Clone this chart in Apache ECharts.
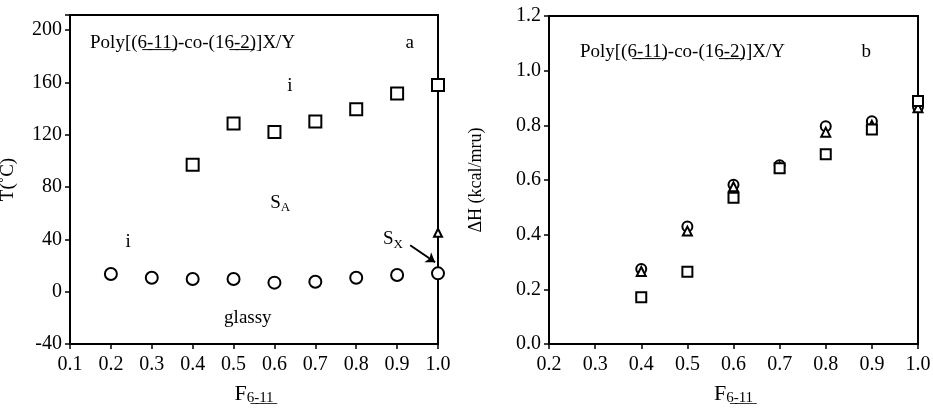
<!DOCTYPE html>
<html>
<head>
<meta charset="utf-8">
<title>Poly[(6-11)-co-(16-2)]X/Y</title>
<script src="https://cdn.jsdelivr.net/npm/echarts@6/dist/echarts.min.js"></script>
<style>
  html, body { margin: 0; padding: 0; background: #fff; }
  #main { width: 933px; height: 408px; }
</style>
</head>
<body>
<div id="main"></div>
<script>
// panel a: transition temperatures
var fracA = [0.2, 0.3, 0.4, 0.5, 0.6, 0.7, 0.8, 0.9, 1.0];
var tGlass = [13.5, 10.7, 9.7, 9.7, 6.9, 7.6, 10.7, 12.8, 14];
var fracIso = [0.4, 0.5, 0.6, 0.7, 0.8, 0.9, 1.0];
var tIso = [97, 128.5, 122, 130, 139.5, 151.5, 158];
var tSx = [[1.0, 45]];

// panel b: enthalpies
var fracB = [0.4, 0.5, 0.6, 0.7, 0.8, 0.9, 1.0];
var dhCircle = [0.274, 0.43, 0.583, 0.654, 0.797, 0.815, 0.868];
var dhTriangle = [0.265, 0.413, 0.575, 0.648, 0.775, 0.8, 0.864];
var dhSquare = [0.171, 0.264, 0.535, 0.643, 0.694, 0.785, 0.889];

var SERIF = 'Liberation Serif';
var title = 'Poly[(6\u0332-\u03321\u03321\u0332)-co-(16\u0332-\u03322\u0332)]X/Y';
var xName = '{f|F}{s|6\u0332-\u03321\u03321\u0332}';

// text labels placed in data coordinates
var notesA = [
  [0.149, 190, title, 'left'],
  [0.931, 190, 'a', 'center'],
  [0.638, 157, 'i', 'center'],
  [0.614, 68, '{t|S}{sub|A}', 'center'],
  [0.242, 38, 'i', 'center'],
  [0.535, -20, 'glassy', 'center'],
  [0.89, 40, '{t|S}{sub|X}', 'center']
];
var notesB = [
  [0.267, 1.07, title, 'left'],
  [0.888, 1.07, 'b', 'center']
];

function pairs(xs, ys) {
  return xs.map(function (x, i) { return [x, ys[i]]; });
}

function noteSeries(notes, xi, yi) {
  return {
    type: 'scatter', xAxisIndex: xi, yAxisIndex: yi, symbolSize: 0, silent: true, z: 1,
    itemStyle: { opacity: 1 },
    data: notes.map(function (n) {
      return {
        value: [n[0], n[1]],
        label: {
          show: true, position: 'inside', align: n[3], verticalAlign: 'middle',
          formatter: n[2], color: '#000', fontFamily: SERIF, fontSize: 19,
          rich: {
            t: { fontFamily: SERIF, fontSize: 19, color: '#000' },
            sub: { fontFamily: SERIF, fontSize: 13, color: '#000', padding: [10, 0, 0, 0] }
          }
        }
      };
    })
  };
}

function marker(shape, size) {
  return {
    symbol: shape, symbolSize: size,
    itemStyle: { color: '#fff', borderColor: '#000', borderWidth: 2, opacity: 1 }
  };
}

var axisBase = {
  axisLine: { show: true, onZero: false, lineStyle: { color: '#000', width: 2 } },
  axisTick: { show: true, length: 5, lineStyle: { color: '#000', width: 1.5 } },
  splitLine: { show: false },
  axisLabel: { color: '#000', fontFamily: SERIF, fontSize: 20 }
};

function xAxis(min, gi) {
  return Object.assign({}, axisBase, {
    type: 'value', gridIndex: gi, min: min, max: 1.0, interval: 0.1,
    name: xName, nameLocation: 'middle', nameGap: 38,
    nameTextStyle: {
      rich: {
        f: { fontFamily: SERIF, fontSize: 22, color: '#000' },
        s: { fontFamily: SERIF, fontSize: 15, color: '#000', padding: [9, 0, 0, 0] }
      }
    },
    axisLabel: Object.assign({}, axisBase.axisLabel, {
      margin: 11,
      formatter: function (v) { return v.toFixed(1); }
    })
  });
}

var option = {
  backgroundColor: '#fff',
  animation: false,
  grid: [
    { left: 70, top: 15, width: 368, bottom: 64, containLabel: false, outerBoundsMode: 'none',
      show: true, borderColor: '#000', borderWidth: 2 },
    { left: 549, top: 16, width: 369, bottom: 64, containLabel: false, outerBoundsMode: 'none',
      show: true, borderColor: '#000', borderWidth: 2 }
  ],
  xAxis: [xAxis(0.1, 0), xAxis(0.2, 1)],
  yAxis: [
    Object.assign({}, axisBase, {
      type: 'value', gridIndex: 0, min: -40, max: 211.5, interval: 40,
      name: 'T(\u02daC)', nameLocation: 'middle', nameGap: 52,
      nameTextStyle: { fontFamily: SERIF, fontSize: 19, color: '#000' },
      axisLabel: Object.assign({}, axisBase.axisLabel, {
        margin: 8,
        formatter: function (v) { return v % 40 === 0 ? String(v) : ''; }
      })
    }),
    Object.assign({}, axisBase, {
      type: 'value', gridIndex: 1, min: 0, max: 1.2, interval: 0.2,
      name: '\u0394H (kcal/mru)', nameLocation: 'middle', nameGap: 64,
      nameTextStyle: { fontFamily: SERIF, fontSize: 18, color: '#000' },
      axisLabel: Object.assign({}, axisBase.axisLabel, {
        margin: 8,
        formatter: function (v) { return v.toFixed(1); }
      })
    })
  ],
  series: [
    Object.assign({ type: 'scatter', xAxisIndex: 0, yAxisIndex: 0, data: pairs(fracIso, tIso) }, marker('rect', 12)),
    Object.assign({ type: 'scatter', xAxisIndex: 0, yAxisIndex: 0, data: pairs(fracA, tGlass) }, marker('circle', 12)),
    Object.assign({ type: 'scatter', xAxisIndex: 0, yAxisIndex: 0, data: tSx }, marker('triangle', 8)),
    Object.assign({ type: 'scatter', xAxisIndex: 1, yAxisIndex: 1, data: pairs(fracB, dhCircle) }, marker('circle', 10)),
    Object.assign({ type: 'scatter', xAxisIndex: 1, yAxisIndex: 1, data: pairs(fracB, dhTriangle) }, marker('triangle', 9)),
    Object.assign({ type: 'scatter', xAxisIndex: 1, yAxisIndex: 1, data: pairs(fracB, dhSquare) }, marker('rect', 10)),
    Object.assign(noteSeries(notesA, 0, 0), {
      markLine: {
        silent: true, symbol: ['none', 'arrow'], symbolSize: 9,
        label: { show: false },
        lineStyle: { color: '#000', width: 2, type: 'solid', opacity: 1 },
        data: [[{ coord: [0.932, 35.5] }, { coord: [0.993, 22.5] }]]
      }
    }),
    noteSeries(notesB, 1, 1)
  ]
};

var chart = echarts.init(document.getElementById('main'));
chart.setOption(option);
</script>
</body>
</html>
